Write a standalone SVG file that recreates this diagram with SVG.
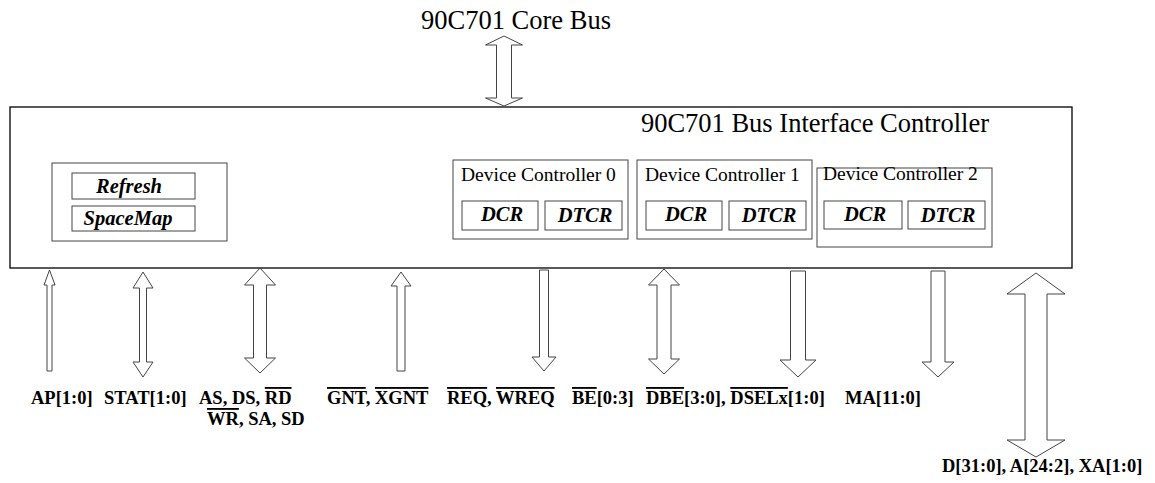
<svg xmlns="http://www.w3.org/2000/svg" width="1155" height="483" viewBox="0 0 1155 483">
<style>
text{font-family:"Liberation Serif","Times New Roman",serif;fill:#000}
.title{font-size:26.5px}
.dc{font-size:19.5px}
.reg{font-size:20.5px;font-style:italic;font-weight:bold}
.lbl{font-size:18.5px;font-weight:bold}
.ov{text-decoration:overline}
.box{fill:#fff;stroke:#000;stroke-width:1.3}
.sub{fill:#fff;stroke:#444;stroke-width:1}
.arr{fill:#fff;stroke:#444;stroke-width:1}
</style>
<rect width="1155" height="483" fill="#fff"/>
<text class="title" x="516" y="29" text-anchor="middle">90C701 Core Bus</text>
<g id="controller">
<rect class="box" x="10" y="107" width="1062" height="161"/>
<text class="title" x="989" y="132" text-anchor="end">90C701 Bus Interface Controller</text>
</g>
<g id="misc">
<rect class="sub" x="52" y="163" width="175" height="78"/>
<rect class="sub" x="72" y="173" width="123" height="26"/>
<text class="reg" x="129" y="193" text-anchor="middle">Refresh</text>
<rect class="sub" x="72" y="206" width="123" height="25"/>
<text class="reg" x="128" y="225" text-anchor="middle">SpaceMap</text>
</g>
<g id="dc0">
<rect class="sub" x="453" y="160" width="175" height="79"/>
<text class="dc" x="461" y="181">Device Controller 0</text>
<rect class="sub" x="462" y="201" width="76" height="29"/>
<text class="reg" x="502" y="221" text-anchor="middle">DCR</text>
<rect class="sub" x="545" y="201" width="77" height="29"/>
<text class="reg" x="585" y="222" text-anchor="middle">DTCR</text>
</g>
<g id="dc1">
<rect class="sub" x="637" y="160" width="175" height="79"/>
<text class="dc" x="645" y="181">Device Controller 1</text>
<rect class="sub" x="646" y="201" width="76" height="29"/>
<text class="reg" x="686" y="221" text-anchor="middle">DCR</text>
<rect class="sub" x="729" y="201" width="77" height="29"/>
<text class="reg" x="769" y="222" text-anchor="middle">DTCR</text>
</g>
<g id="dc2">
<rect class="sub" x="817" y="168" width="175" height="79"/>
<text class="dc" x="823" y="180">Device Controller 2</text>
<rect class="sub" x="824" y="201" width="78" height="28"/>
<text class="reg" x="865" y="221" text-anchor="middle">DCR</text>
<rect class="sub" x="908" y="201" width="77" height="28"/>
<text class="reg" x="948" y="222" text-anchor="middle">DTCR</text>
</g>
<g id="connectors">
<polygon class="arr" points="504,36 522.5,45 511.5,45 511.5,98 522.5,98 504,106 485.5,98 496.5,98 496.5,45 485.5,45"/>
<polygon class="arr" points="49.5,270 55,285 52,285 52,371 47,371 47,285 44,285"/>
<polygon class="arr" points="143,272 153,288 146.5,288 146.5,362 153,362 143,377 133,362 139.5,362 139.5,288 133,288"/>
<polygon class="arr" points="260,268 275.5,285 266.5,285 266.5,358 275.5,358 260,373 244.5,358 253.5,358 253.5,285 244.5,285"/>
<polygon class="arr" points="401,272 411,286 405,286 405,371 397,371 397,286 391,286"/>
<polygon class="arr" points="539.5,270 548.5,270 548.5,357 556,357 544,371 532,357 539.5,357"/>
<polygon class="arr" points="664,269 679.5,285 671,285 671,359 679.5,359 664,374 648.5,359 657,359 657,285 648.5,285"/>
<polygon class="arr" points="790.5,271 805.5,271 805.5,360 816,360 798,377 780,360 790.5,360"/>
<polygon class="arr" points="931,271 945,271 945,362 954,362 938,377 922,362 931,362"/>
<polygon class="arr" points="1036,273 1065,294 1047,294 1047,440 1065,440 1036,457 1007,440 1025,440 1025,294 1007,294"/>
</g>
<g id="labels">
<text class="lbl" x="31" y="404">AP[1:0]</text>
<text class="lbl" x="104" y="404">STAT[1:0]</text>
<text class="lbl" x="199" y="404">AS, DS, <tspan class="ov">RD</tspan></text>
<text class="lbl" x="207" y="425"><tspan class="ov">WR</tspan>, SA, SD</text>
<text class="lbl" x="327" y="404"><tspan class="ov">GNT</tspan>, <tspan class="ov">XGNT</tspan></text>
<text class="lbl" x="447" y="404"><tspan class="ov">REQ</tspan>, <tspan class="ov">WREQ</tspan></text>
<text class="lbl" x="572" y="404"><tspan class="ov">BE</tspan>[0:3]</text>
<text class="lbl" x="646" y="404"><tspan class="ov">DBE</tspan>[3:0], <tspan class="ov">DSELx</tspan>[1:0]</text>
<text class="lbl" x="845" y="404">MA[11:0]</text>
<text class="lbl" x="942" y="472">D[31:0], A[24:2], XA[1:0]</text>
</g>
</svg>
